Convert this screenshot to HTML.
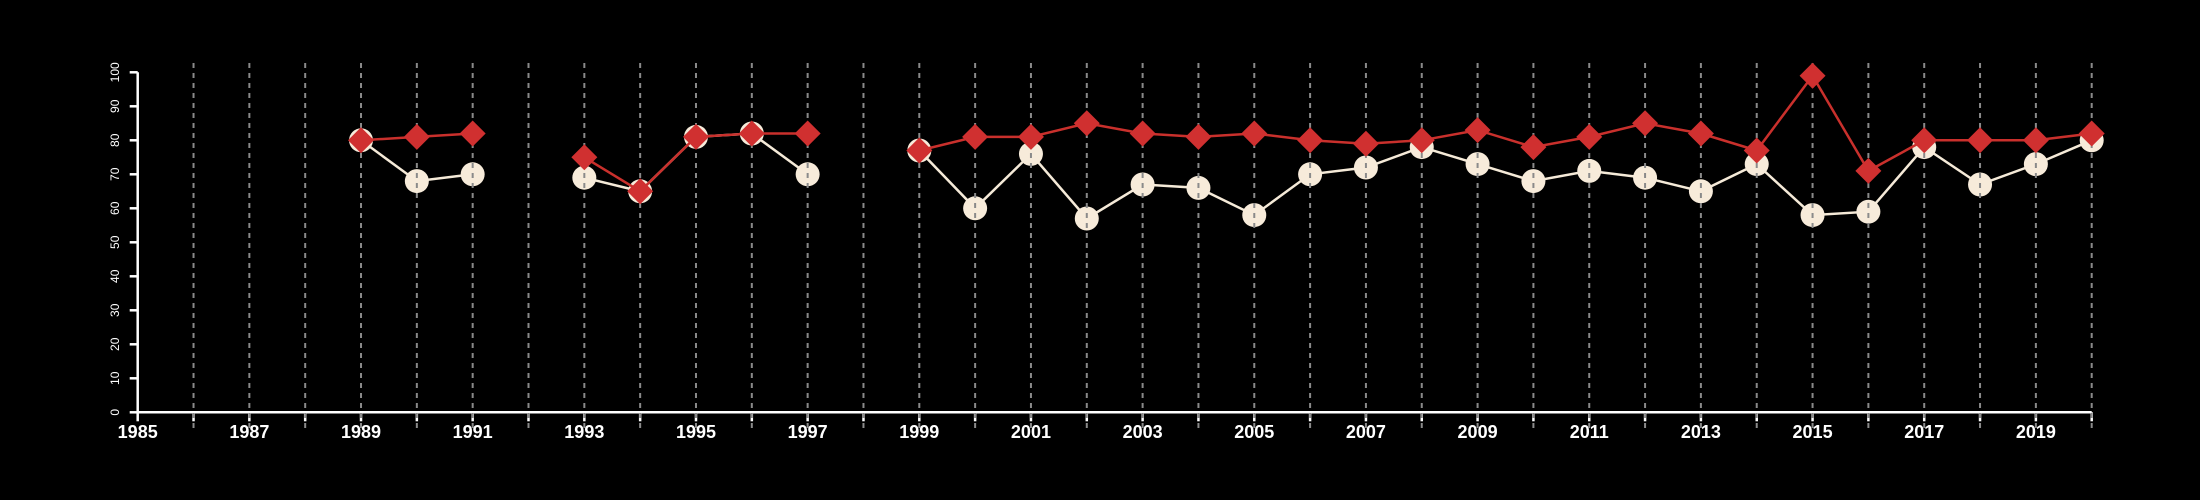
<!DOCTYPE html>
<html><head><meta charset="utf-8"><style>
html,body{margin:0;padding:0;background:#000;}
svg{display:block;}
text{font-family:"Liberation Sans",Arial,sans-serif;fill:#fff;}
</style></head><body>
<svg id="chart" width="2200" height="500" viewBox="0 0 2200 500" xmlns="http://www.w3.org/2000/svg"></svg>
<script>
const years = [1989,1990,1991,1993,1994,1995,1996,1997,1999,2000,2001,2002,2003,2004,2005,2006,2007,2008,2009,2010,2011,2012,2013,2014,2015,2016,2017,2018,2019,2020];
const whiteSeries = [80,68,70,69,65,81,82,70,77,60,76,57,67,66,58,70,72,78,73,68,71,69,65,73,58,59,78,67,73,80];
const redSeries = [80,81,82,75,65,81,82,82,77,81,81,85,82,81,82,80,79,80,83,78,81,85,82,77,99,71,80,80,80,82];
const yTicks = [0,10,20,30,40,50,60,70,80,90,100];
const xLabelYears = [1985,1987,1989,1991,1993,1995,1997,1999,2001,2003,2005,2007,2009,2011,2013,2015,2017,2019];

const NS='http://www.w3.org/2000/svg';
const svg=document.getElementById('chart');
const X0=137.7, X1=2091.7, Y0=412.3, Y1=72.3;
const x=yr=>X0+(yr-1985)*(X1-X0)/35;
const y=v=>Y0+(v)*(Y1-Y0)/100;
function mk(tag,attrs,parent){const e=document.createElementNS(NS,tag);for(const k in attrs)e.setAttribute(k,attrs[k]);(parent||svg).appendChild(e);return e;}

// axes
const axes=mk('g',{});


mk('line',{x1:X0,y1:Y0,x2:X1,y2:Y0,stroke:'#fff','stroke-width':2.5},axes);
mk('line',{x1:X0,y1:Y0,x2:X0,y2:Y1,stroke:'#fff','stroke-width':2.5},axes);
for(let yr=1985;yr<=2020;yr++){
  const t=mk('line',{x1:x(yr),y1:Y0,x2:x(yr),y2:Y0+9,stroke:'#fff','stroke-width':2.5},axes);
  
  
}
xLabelYears.forEach(yr=>{
  const t=mk('text',{x:x(yr),y:438,'text-anchor':'middle','font-size':18,'font-weight':'bold'},axes);
  t.textContent=yr;
  
  
});
yTicks.forEach(v=>{
  mk('line',{x1:X0-8,y1:y(v),x2:X0,y2:y(v),stroke:'#fff','stroke-width':2.5},axes);
  const t=mk('text',{x:0,y:0,'text-anchor':'middle','font-size':12,transform:`translate(119,${y(v)}) rotate(-90)`},axes);
  t.textContent=v;
  
  
});

function segments(vals){
  const segs=[];let cur=[];
  years.forEach((yr,i)=>{
    if(i>0 && yr-years[i-1]>1){segs.push(cur);cur=[];}
    cur.push([x(yr),y(vals[i])]);
  });
  segs.push(cur);return segs;
}
// white series
const wg=mk('g',{});


segments(whiteSeries).forEach(s=>{
  const p=mk('polyline',{points:s.map(q=>q.join(',')).join(' '),fill:'none',stroke:'#f5ead8','stroke-width':2.5},wg);
  
  
});
years.forEach((yr,i)=>{
  const c=mk('circle',{cx:x(yr),cy:y(whiteSeries[i]),r:12,fill:'#f7ebda'},wg);
  
  
});
// grid
const gg=mk('g',{});


for(let yr=1986;yr<=2020;yr++){
  mk('line',{x1:x(yr),y1:63,x2:x(yr),y2:428,stroke:'#8a8a8a','stroke-width':2,'stroke-dasharray':'5,5'},gg);
}
// red series
const rg=mk('g',{});


segments(redSeries).forEach(s=>{
  const p=mk('polyline',{points:s.map(q=>q.join(',')).join(' '),fill:'none',stroke:'#c9302c','stroke-width':2.5},rg);
  
  
});
years.forEach((yr,i)=>{
  const cx=x(yr),cy=y(redSeries[i]),d=13;
  const p=mk('polygon',{points:`${cx},${cy-d} ${cx+d},${cy} ${cx},${cy+d} ${cx-d},${cy}`,fill:'#d03030'},rg);
  
  
});
</script>
</body></html>
